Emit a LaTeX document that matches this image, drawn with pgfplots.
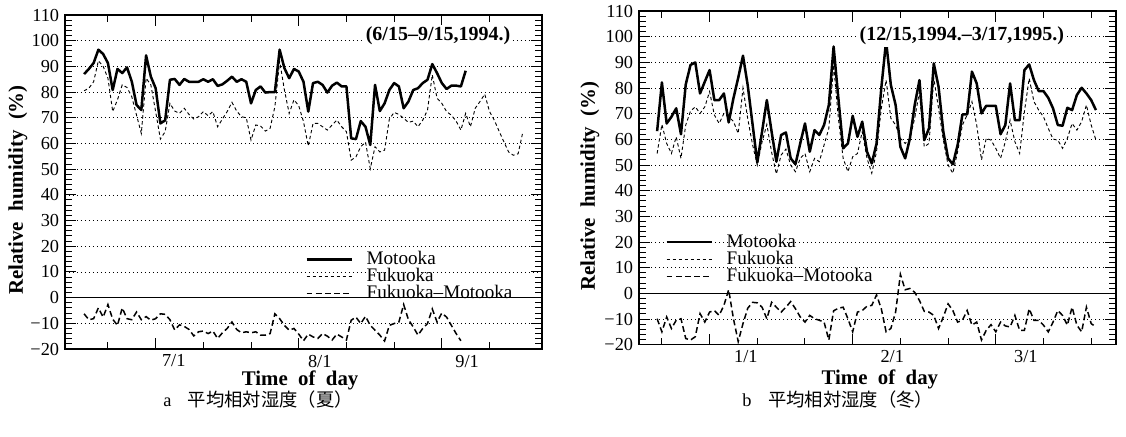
\documentclass[border=0pt]{standalone}
\usepackage{fontspec}
\setmainfont{Liberation Serif}
\newfontfamily\cjk{Noto Sans CJK JP}
\usepackage{pgfplots}
\pgfplotsset{compat=1.18}

% daily mean relative humidity, summer (day 0 = 6/15/1994)
\pgfplotstableread{
d M
0 87
1 89
2 91.3
3 96.5
4 94.8
5 91.3
6 80.8
7 89
8 87.4
9 89.6
10 84.1
11 75
12 73
13 94.3
14 86
15 81.5
16 67.8
17 69
18 84.8
19 85.1
20 82.8
21 85.1
22 84
23 84
24 84
25 85
26 84
27 85
28 82.4
29 83
30 84.4
31 86
32 84
33 85
34 84
35 75.6
36 80.8
37 82.2
38 79.8
39 80
40 80
41 96.5
42 89.3
43 85.4
44 89
45 88
46 84
47 72.4
48 83.5
49 84
50 82.8
51 79.8
52 82.5
53 83.7
54 82.2
55 82.2
56 62
57 61.7
58 68.7
59 66.5
60 59.4
61 82.8
62 72.6
63 75.6
64 80.8
65 83.5
66 82.2
67 73.7
68 76.3
69 80.8
70 81.5
71 83.5
72 84.8
73 90.9
74 87.4
75 83.5
76 81.2
77 82.5
78 82.5
79 82.2
80 88.3
}\summerM

\pgfplotstableread{
d F
0 80.5
1 81.5
2 84
3 92.2
4 90
5 85.4
6 72.4
7 77
8 82.8
9 81.8
10 78.2
11 71
12 63.9
13 85.4
14 82.8
15 72.4
16 61.7
17 64.6
18 75.6
19 72.6
20 71.7
21 73.7
22 71.3
23 69.5
24 70.4
25 72.4
26 70.8
27 72.4
28 66.5
29 69.5
30 72.4
31 76
32 72.6
33 70.4
34 70
35 61.3
36 67.2
37 66.8
38 64.8
39 65.9
40 74.3
41 92
42 80.8
43 71.7
44 77
45 74.7
46 68.5
47 59
48 67.8
49 67.8
50 66.5
51 65.2
52 67.2
53 69.1
54 66.5
55 64.6
56 53.5
57 54.8
58 58.7
59 60.5
60 50.2
61 58.7
62 56.7
63 57.4
64 69.5
65 72.1
66 71.3
67 69.8
68 68.2
69 68.7
70 66.5
71 69.1
72 73
73 86.7
74 77.6
75 75.6
76 72.4
77 71
78 68.7
79 65.2
80 71.7
81 66.5
82 73.7
83 76.3
84 79.2
85 72.4
86 69.1
87 64.8
88 60.7
89 56.7
90 55.4
91 56
92 64.6
}\summerF

\pgfplotstableread{
d D
0 -6.3
1 -8.6
2 -8.2
3 -4.0
4 -7.6
5 -2.7
6 -8.4
7 -10.8
8 -4.0
9 -8.2
10 -8.6
11 -5.6
12 -8.6
13 -7.4
14 -8.8
15 -8.2
16 -6.3
17 -6.5
18 -8.6
19 -12.6
20 -10.6
21 -11.2
22 -12.4
23 -14.9
24 -13.3
25 -13
26 -14
27 -13
28 -15.9
29 -13.7
30 -12
31 -9.5
32 -12.4
33 -13.7
34 -13.3
35 -13.7
36 -13.3
37 -14.6
38 -14.6
39 -14
40 -6.3
41 -8.2
42 -10.8
43 -12.7
44 -12
45 -14.2
46 -16.8
47 -14.2
48 -15.3
49 -15.9
50 -14
51 -15
52 -16.5
53 -14.2
54 -15.3
55 -16.5
56 -8.8
57 -7.6
58 -10.1
59 -7.3
60 -10.8
61 -12.7
62 -14.6
63 -16.9
64 -10.8
65 -10.1
66 -9.5
67 -2.7
68 -8.6
69 -11.4
70 -14.6
71 -12
72 -10.1
73 -4.4
74 -9.5
75 -6.0
76 -7.6
77 -10.8
78 -14
79 -16.8
}\summerD

% winter (day 0 = 12/15/1994)
\pgfplotstableread{
d M
0 63.2
1 82.2
2 66.2
3 68.8
4 72.1
5 62
6 81.4
7 89
8 90
9 77.9
10 82.5
11 87
12 75.3
13 75.3
14 77.9
15 66.6
16 76
17 84
18 92.6
19 81
20 66
21 51
22 63
23 75.3
24 63
25 51.3
26 61.7
27 62.7
28 52.6
29 50.3
30 58.4
31 66.2
32 55.2
33 63.6
34 61.7
35 65.6
36 73.4
37 96.2
38 76
39 56.5
40 58.4
41 69.2
42 61
43 66.9
44 55.2
45 50.6
46 58.4
47 80
48 98.3
49 81.2
50 73.4
51 57.1
52 52.6
53 60.4
54 73.4
55 83.1
56 59.7
57 64.3
58 89.6
59 80.5
60 63
61 52.6
62 50.3
63 57.8
64 69.7
65 69.7
66 86.4
67 81.8
68 70.1
69 73.1
70 73.1
71 73.1
72 62
73 65.6
74 81.8
75 67.5
76 67.5
77 87
78 89.2
79 83.1
80 78.8
81 78.8
82 76.2
83 72.1
84 65.6
85 65.3
86 72.3
87 71.4
88 77.3
89 80.1
90 77.9
91 75.3
92 71.4
}\winterM

\pgfplotstableread{
d F
0 54.5
1 65.8
2 58.4
3 54.5
4 61
5 52.6
6 65.6
7 71
8 72.7
9 70.1
10 72.7
11 78.6
12 69.5
13 66.2
14 70.1
15 68.8
16 67
17 62.3
18 80
19 68
20 58
21 50
22 59
23 65.8
24 55
25 46.5
26 53.9
27 56.2
28 50
29 47.4
30 52.6
31 54.5
32 47.4
33 52.6
34 51.3
35 57.8
36 64.3
37 89
38 68.2
39 52.6
40 47.4
41 53.2
42 54.5
43 63
44 52.6
45 46.8
46 55.2
47 72.1
48 83.1
49 68.2
50 65.6
51 60.4
52 58.4
53 60.4
54 68.2
55 78.6
56 57.1
57 58.4
58 83.8
59 72.1
60 59.7
61 50
62 46.8
63 55.2
64 65.6
65 69.5
66 74.7
67 65.6
68 52
69 60.4
70 59.7
71 56.5
72 52.6
73 59.1
74 67.5
75 59.1
76 54.5
77 70.8
78 83.8
79 74.7
80 71.4
81 68.8
82 64.3
83 60.1
84 59.7
85 56.5
86 60.4
87 66.2
88 63.6
89 66.9
90 73.4
91 65.6
92 59.7
}\winterF

\pgfplotstableread{
d D
0 -9.9
1 -15
2 -9.2
3 -13.7
4 -10.5
5 -9.9
6 -17.6
7 -18.2
8 -16.9
9 -7.9
10 -11.2
11 -7.3
12 -6.7
13 -8.6
14 -4.7
15 1.4
16 -9.9
17 -18.8
18 -11.8
19 -5.8
20 -3.5
21 -3.7
22 -5.4
23 -9.9
24 -3.5
25 -5.4
26 -7.3
27 -5.4
28 -3.2
29 -6
30 -9.2
31 -11.2
32 -8.6
33 -9.9
34 -10.5
35 -11.2
36 -18.2
37 -6.8
38 -5.8
39 -5.4
40 -9.9
41 -15
42 -7.3
43 -6.7
44 -5.0
45 -4.7
46 -0.6
47 -6
48 -15
49 -13.7
50 -7.3
51 7.4
52 1.4
53 1.9
54 0.4
55 -2.8
56 -7
57 -7.3
58 -8.6
59 -13.7
60 -9.2
61 -4.1
62 -6.7
63 -11.2
64 -10.5
65 -6.7
66 -12.4
67 -11.2
68 -18.2
69 -14.4
70 -12.2
71 -15
72 -11.2
73 -12.7
74 -13.1
75 -8.6
76 -14.4
77 -14.4
78 -6
79 -10.5
80 -10.5
81 -12.4
82 -15
83 -11.2
84 -6.7
85 -8.6
86 -12.4
87 -5.4
88 -12.4
89 -15
90 -5.4
91 -11.8
92 -13.1
}\winterD

\pgfplotsset{
  rh/.style={
    scale only axis, width=286.2pt,
    ymin=-20, ymax=110,
    ytick={-20,-10,...,110},
    yticklabels={−20,−10,0,10,20,30,40,50,60,70,80,90,100,110},
    minor y tick num=4,
    ymajorgrids, major grid style={black, line width=0.4pt, dotted},
    extra y ticks={0}, extra y tick labels={},
    extra y tick style={major grid style={solid, black, line width=0.7pt}, major tick length=0pt},
    xticklabels={},
    extra x tick style={major tick length=0pt},
    major tick length=6.5pt, minor tick length=4pt,
    every tick/.style={black, line width=0.6pt},
    axis line style={line width=1pt},
    tick label style={font=\fontsize{11}{11}\selectfont},
    label style={font=\bfseries\fontsize{12.5}{13}\selectfont},
    legend cell align=left,
    legend image code/.code={\draw[##1] (0pt,0pt) -- (27pt,0pt);},
    legend style={draw=none, fill=none, anchor=north west, inner sep=0pt,
      font=\fontsize{11.5}{11.5}\selectfont,
      nodes={inner sep=0.3pt, text height=7.8pt, text depth=1.9pt},
      /tikz/every odd column/.append style={column sep=8pt}},
  },
  moto/.style={black, line width=1.5pt, line join=round},
  fuku/.style={black, line width=0.55pt, dash pattern=on 2pt off 1.6pt},
  diff/.style={black, line width=0.9pt, dash pattern=on 3.5pt off 2pt},
}

\begin{document}
\begin{tikzpicture}
\useasboundingbox (0,0) rectangle (675.6pt,262.2pt);

\begin{axis}[rh, height=200.4pt, at={(39pt,52.8pt)}, anchor=south west,
  xmin=-4, xmax=96,
  xtick={15,45,75}, minor xtick={5,25,35,55,65,85},
  extra x ticks={18.8,49.4,80.3}, extra x tick labels={7/1,8/1,9/1},
  xlabel={Time\ \ of\ \ day},
  ylabel={Relative\ \ humidity\ \ (\%)},
  xlabel style={at={(axis description cs:0.493,-0.093)}, anchor=center},
  ylabel style={at={(axis description cs:-0.0985,0.476)}, anchor=center, rotate=0},
  legend style={at={(axis description cs:0.503,0.295)}},
]
\addplot[moto] table[x=d, y=M] {\summerM};
\addlegendentry{Motooka}
\addplot[fuku] table[x=d, y=F] {\summerF};
\addlegendentry{Fukuoka}
\addplot[diff] table[x=d, y=D] {\summerD};
\addlegendentry{Fukuoka--Motooka}
\node[fill=white, inner sep=1pt, font=\bfseries\fontsize{12}{12}\selectfont]
  at (axis description cs:0.782,0.937) {(6/15--9/15,1994.)};
\end{axis}

\begin{axis}[rh, height=200.16pt, at={(383.4pt,55.4pt)}, anchor=south west,
  xmin=-3.8, xmax=96.2,
  xtick={11,41,71}, minor xtick={1,21,31,51,61,81,91},
  extra x ticks={18.6,49.3,77.3}, extra x tick labels={1/1,2/1,3/1},
  xlabel={Time\ \ of\ \ day},
  ylabel={Relative\ \ humidity\ \ (\%)},
  xlabel style={at={(axis description cs:0.505,-0.103)}, anchor=center},
  ylabel style={at={(axis description cs:-0.103,0.475)}, anchor=center, rotate=0},
  legend style={at={(axis description cs:0.0545,0.334)}},
]
\addplot[moto] table[x=d, y=M] {\winterM};
\addlegendentry{Motooka}
\addplot[fuku] table[x=d, y=F] {\winterF};
\addlegendentry{Fukuoka}
\addplot[diff] table[x=d, y=D] {\winterD};
\addlegendentry{Fukuoka--Motooka}
\node[fill=white, inner sep=1pt, font=\bfseries\fontsize{12}{12}\selectfont]
  at (axis description cs:0.677,0.925) {(12/15,1994.--3/17,1995.)};
\end{axis}

\node[anchor=west, inner sep=0pt, font=\fontsize{11}{11}\selectfont]
  at (97.8pt,22.2pt) {a\hspace{0.9em}{\cjk 平均相対湿度（夏）}};
\node[anchor=west, inner sep=0pt, font=\fontsize{11}{11}\selectfont]
  at (445.2pt,22.2pt) {b\hspace{0.9em}{\cjk 平均相対湿度（冬）}};
\end{tikzpicture}
\end{document}
